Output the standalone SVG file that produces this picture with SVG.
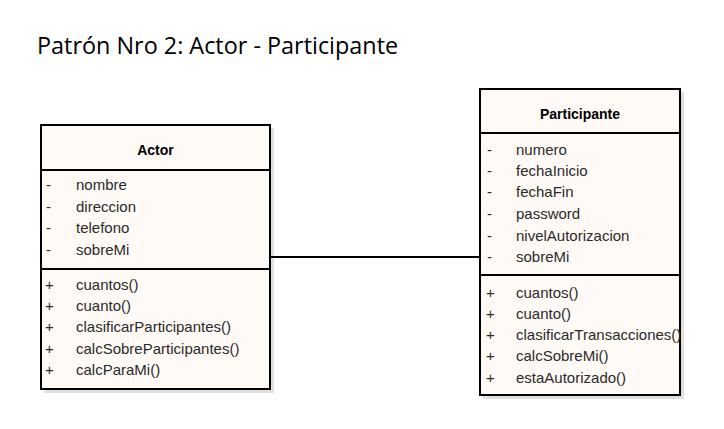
<svg xmlns="http://www.w3.org/2000/svg" width="724" height="429" viewBox="0 0 724 429">
<style>
  .shadow { fill: #e0e0e0; }
  .box { fill: #fffaf6; stroke: #000; stroke-width: 2; }
  .div { stroke: #000; stroke-width: 2; }
  .t { font-family: "Liberation Sans", Arial, sans-serif; font-size: 15px; fill: #2a2a2a; }
  .h { font-family: "Liberation Sans", Arial, sans-serif; font-size: 14px; font-weight: bold; fill: #000; text-anchor: middle; }
  .title { font-family: "Open Sans", "Liberation Sans", sans-serif; font-size: 23.4px; fill: #000; }
  .conn { stroke: #000; stroke-width: 2; fill: none; }
</style>
<rect width="724" height="429" fill="#ffffff"/>
<text class="title" x="37" y="54">Patrón Nro 2: Actor - Participante</text>
<g id="actor">
  <rect class="shadow" x="44" y="128" width="230" height="265"/>
  <rect class="box" x="41" y="125" width="229" height="264"/>
  <line class="div" x1="41" y1="170" x2="270" y2="170"/>
  <line class="div" x1="41" y1="269" x2="270" y2="269"/>
  <text class="h" x="155.5" y="155">Actor</text>
  <text class="t" x="46" y="190">-</text><text class="t" x="76" y="190">nombre</text>
  <text class="t" x="46" y="212">-</text><text class="t" x="76" y="212">direccion</text>
  <text class="t" x="46" y="233">-</text><text class="t" x="76" y="233">telefono</text>
  <text class="t" x="46" y="255">-</text><text class="t" x="76" y="255">sobreMi</text>
  <text class="t" x="45" y="290">+</text><text class="t" x="76" y="290">cuantos()</text>
  <text class="t" x="45" y="311">+</text><text class="t" x="76" y="311">cuanto()</text>
  <text class="t" x="45" y="332">+</text><text class="t" x="76" y="332">clasificarParticipantes()</text>
  <text class="t" x="45" y="354">+</text><text class="t" x="76" y="354">calcSobreParticipantes()</text>
  <text class="t" x="45" y="375">+</text><text class="t" x="76" y="375">calcParaMi()</text>
</g>
<g id="participante">
  <rect class="shadow" x="483" y="92" width="201" height="307"/>
  <rect class="box" x="480" y="89" width="200" height="306"/>
  <line class="div" x1="480" y1="133" x2="680" y2="133"/>
  <line class="div" x1="480" y1="275" x2="680" y2="275"/>
  <text class="h" x="580" y="119">Participante</text>
  <text class="t" x="487" y="155">-</text><text class="t" x="516" y="155">numero</text>
  <text class="t" x="487" y="176">-</text><text class="t" x="516" y="176">fechaInicio</text>
  <text class="t" x="487" y="197">-</text><text class="t" x="516" y="197">fechaFin</text>
  <text class="t" x="487" y="219">-</text><text class="t" x="516" y="219">password</text>
  <text class="t" x="487" y="241">-</text><text class="t" x="516" y="241">nivelAutorizacion</text>
  <text class="t" x="487" y="262">-</text><text class="t" x="516" y="262">sobreMi</text>
  <text class="t" x="486" y="298">+</text><text class="t" x="516" y="298">cuantos()</text>
  <text class="t" x="486" y="319">+</text><text class="t" x="516" y="319">cuanto()</text>
  <text class="t" x="486" y="340">+</text><text class="t" x="516" y="340">clasificarTransacciones()</text>
  <text class="t" x="486" y="361">+</text><text class="t" x="516" y="361">calcSobreMi()</text>
  <text class="t" x="486" y="383">+</text><text class="t" x="516" y="383">estaAutorizado()</text>
</g>
<g id="connectors">
  <line class="conn" x1="271" y1="257" x2="479" y2="257"/>
</g>
</svg>
